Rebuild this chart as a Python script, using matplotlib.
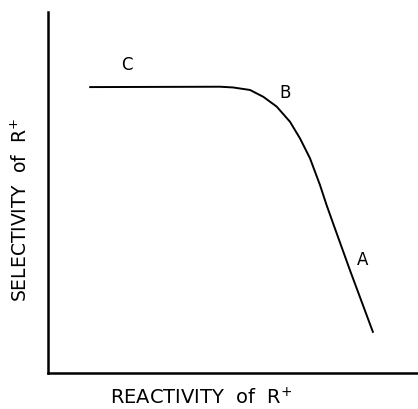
import matplotlib.pyplot as plt

# curve (arbitrary units, axes span 0..10)
reactivity = [1.14, 4.65, 5.00, 5.46, 5.82, 6.18, 6.54, 6.81, 7.08,
              7.35, 7.53, 7.70, 8.16, 8.78]
selectivity = [7.92, 7.93, 7.91, 7.84, 7.65, 7.38, 6.96, 6.50, 5.95,
               5.21, 4.65, 4.16, 2.85, 1.14]

# region labels
region_names = ['C', 'B', 'A']
region_x = [2.13, 6.41, 8.49]
region_y = [8.53, 7.76, 3.13]

plt.rcParams['font.family'] = ['DejaVu Sans']

fig = plt.figure(figsize=(4.18, 4.09), dpi=100)
ax = fig.add_axes([48/418, 36/409, 370/418, 361/409])

ax.plot(reactivity, selectivity, color='black', linewidth=1.4,
        solid_joinstyle='round')

for name, x, y in zip(region_names, region_x, region_y):
    ax.text(x, y, name, fontsize=12, ha='center', va='center')

ax.set_xlim(0, 10)
ax.set_ylim(0, 10)
ax.set_xticks([])
ax.set_yticks([])
ax.spines['top'].set_visible(False)
ax.spines['right'].set_visible(False)
ax.spines['left'].set_linewidth(1.8)
ax.spines['bottom'].set_linewidth(1.8)

ax.set_xlabel(r'REACTIVITY  of  R$^{+}$', fontsize=14)
ax.set_ylabel(r'SELECTIVITY  of  R$^{+}$', fontsize=13.5)
ax.xaxis.set_label_coords(0.414, -0.04)
ax.yaxis.set_label_coords(-0.045, 0.452)

fig.savefig('out.png', dpi=100)
